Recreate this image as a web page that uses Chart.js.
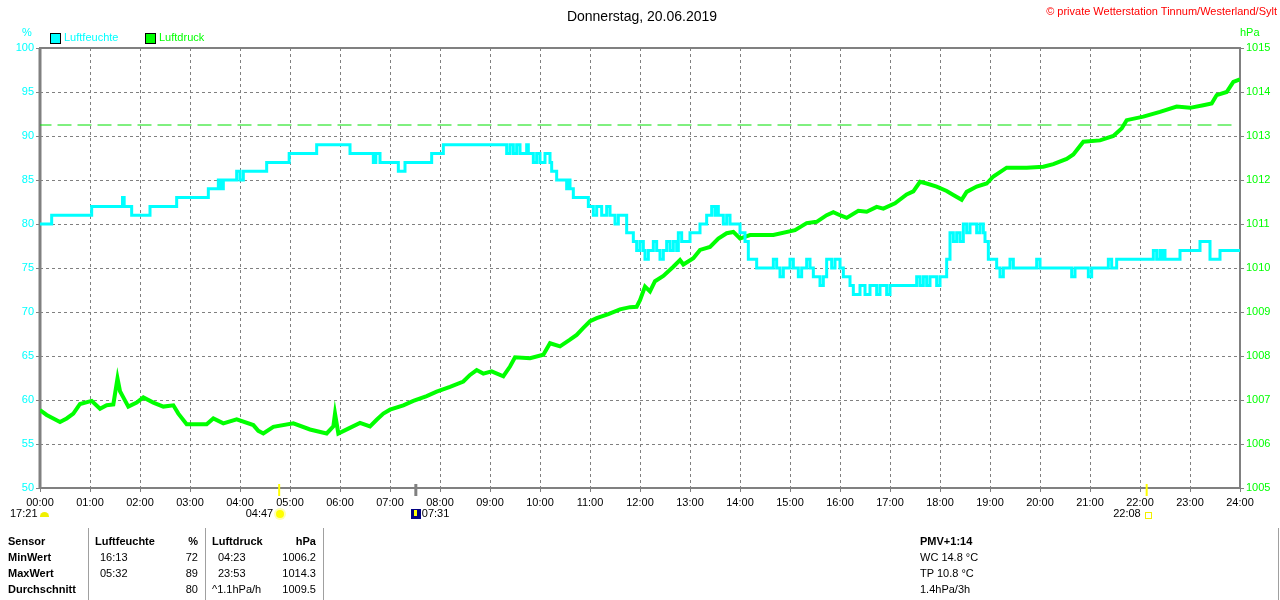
<!DOCTYPE html>
<html>
<head>
<meta charset="utf-8">
<title>Donnerstag, 20.06.2019</title>
<script src="https://cdn.jsdelivr.net/npm/chart.js@4.4.1/dist/chart.umd.min.js"></script>
<style>
body { margin: 0; background: #fff; font-family: "Liberation Sans", Arial, sans-serif; font-size: 11px; color: #000; }
#wrap { position: relative; width: 1280px; height: 600px; overflow: hidden; }
#chart { position: absolute; left: 0; top: 0; }
.t { position: absolute; white-space: nowrap; line-height: 13px; }
.b { font-weight: bold; }
.vl { position: absolute; width: 1px; background: #a0a0a0; top: 528px; height: 72px; }
.box { position: absolute; width: 9px; height: 9px; border: 1px solid #000; }
</style>
</head>
<body>
<div id="wrap">
  <canvas id="chart" width="1280" height="600"></canvas>

  <div class="t" style="left:642px; top:8px; font-size:14px; line-height:16px; transform:translateX(-50%);">Donnerstag, 20.06.2019</div>
  <div class="t" style="right:3px; top:5px; color:#ff0000;">© private Wetterstation Tinnum/Westerland/Sylt</div>

  <div class="t" style="left:22px; top:26px; color:#00ffff;">%</div>
  <div class="t" style="left:1240px; top:26px; color:#00ff00;">hPa</div>

  <div class="box" style="left:50px; top:33px; background:#00ffff;"></div>
  <div class="t" style="left:64px; top:31px; color:#00ffff;">Luftfeuchte</div>
  <div class="box" style="left:145px; top:33px; background:#00ff00;"></div>
  <div class="t" style="left:159px; top:31px; color:#00ff00;">Luftdruck</div>

  <div class="t" style="left:10px; top:507px;">17:21</div>
  <div style="position:absolute; left:40px; top:512px; width:9px; height:5px; border-radius:5px 5px 0 0; background:#f0f000;"></div>
  <div id="events"></div>

  <div class="vl" style="left:88px;"></div>
  <div class="vl" style="left:205px;"></div>
  <div class="vl" style="left:323px;"></div>
  <div class="vl" style="left:1278px;"></div>

  <div class="t b" style="left:8px; top:535px;">Sensor</div>
  <div class="t b" style="left:8px; top:551px;">MinWert</div>
  <div class="t b" style="left:8px; top:567px;">MaxWert</div>
  <div class="t b" style="left:8px; top:583px;">Durchschnitt</div>

  <div class="t b" style="left:95px; top:535px;">Luftfeuchte</div>
  <div class="t b" style="right:1082px; top:535px;">%</div>
  <div class="t" style="left:100px; top:551px;">16:13</div>
  <div class="t" style="right:1082px; top:551px;">72</div>
  <div class="t" style="left:100px; top:567px;">05:32</div>
  <div class="t" style="right:1082px; top:567px;">89</div>
  <div class="t" style="right:1082px; top:583px;">80</div>

  <div class="t b" style="left:212px; top:535px;">Luftdruck</div>
  <div class="t b" style="right:964px; top:535px;">hPa</div>
  <div class="t" style="left:218px; top:551px;">04:23</div>
  <div class="t" style="right:964px; top:551px;">1006.2</div>
  <div class="t" style="left:218px; top:567px;">23:53</div>
  <div class="t" style="right:964px; top:567px;">1014.3</div>
  <div class="t" style="left:212px; top:583px;">^1.1hPa/h</div>
  <div class="t" style="right:964px; top:583px;">1009.5</div>

  <div class="t b" style="left:920px; top:535px;">PMV+1:14</div>
  <div class="t" style="left:920px; top:551px;">WC 14.8 °C</div>
  <div class="t" style="left:920px; top:567px;">TP 10.8 °C</div>
  <div class="t" style="left:920px; top:583px;">1.4hPa/3h</div>
</div>

<script>
// Zeit in Minuten seit 00:00
let xTickLabels = ['00:00', '01:00', '02:00', '03:00', '04:00', '05:00', '06:00', '07:00', '08:00',
    '09:00', '10:00', '11:00', '12:00', '13:00', '14:00', '15:00', '16:00', '17:00', '18:00',
    '19:00', '20:00', '21:00', '22:00', '23:00', '24:00'];

// Luftfeuchte (%), Wert gilt ab dem Zeitpunkt
let humTimes = [
    0, 14, 62, 99, 101, 110, 132, 164, 202, 214,
    217, 220, 236, 240, 244, 272, 299, 332, 372, 400,
    403, 408, 430, 438, 470, 484, 560, 564, 568, 572,
    576, 584, 586, 592, 596, 600, 606, 612, 614, 620,
    632, 634, 636, 640, 658, 664, 668, 674, 680, 684,
    690, 694, 704, 712, 716, 720, 724, 726, 730, 736,
    740, 744, 748, 752, 756, 760, 764, 766, 770, 780,
    792, 800, 806, 810, 812, 814, 820, 824, 828, 840,
    846, 850, 860, 880, 884, 888, 892, 900, 904, 910,
    914, 920, 924, 928, 936, 940, 944, 950, 954, 960,
    964, 972, 976, 984, 990, 996, 1004, 1008, 1016, 1020,
    1052, 1056, 1060, 1064, 1068, 1076, 1080, 1088, 1092, 1096,
    1100, 1104, 1108, 1112, 1116, 1124, 1128, 1132, 1134, 1138,
    1148, 1152, 1156, 1164, 1168, 1196, 1200, 1238, 1242, 1258,
    1262, 1282, 1286, 1292, 1336, 1340, 1344, 1346, 1348, 1350,
    1368, 1392, 1404, 1416, 1440];
let humValues = [
    80, 81, 82, 83, 82, 81, 82, 83, 84, 85,
    84, 85, 86, 85, 86, 87, 88, 89, 88, 87,
    88, 87, 86, 87, 88, 89, 88, 89, 88, 89,
    88, 89, 88, 87, 88, 87, 88, 87, 86, 85,
    84, 85, 84, 83, 82, 81, 82, 81, 82, 81,
    80, 81, 79, 78, 77, 78, 77, 76, 77, 78,
    77, 76, 77, 78, 77, 78, 77, 79, 78, 79,
    80, 81, 82, 81, 82, 81, 80, 81, 80, 79,
    78, 76, 75, 76, 75, 74, 75, 76, 75, 74,
    75, 76, 75, 74, 73, 74, 76, 75, 76, 75,
    74, 73, 72, 73, 72, 73, 72, 73, 72, 73,
    74, 73, 74, 73, 74, 73, 74, 76, 79, 78,
    79, 78, 80, 79, 80, 79, 80, 79, 78, 76,
    75, 74, 75, 76, 75, 76, 75, 74, 75, 74,
    75, 76, 75, 76, 77, 76, 77, 76, 77, 76,
    77, 78, 76, 77, 77];

// Luftdruck (hPa)
let pressTimes = [
    0, 8, 16, 24, 32, 40, 48, 62, 72, 80,
    88, 93, 96, 100, 106, 116, 124, 136, 148, 160,
    166, 176, 200, 208, 220, 236, 256, 262, 268, 280,
    304, 324, 344, 352, 354, 358, 370, 384, 396, 404,
    412, 420, 436, 448, 464, 476, 492, 508, 516, 524,
    532, 542, 556, 564, 570, 588, 604, 612, 624, 636,
    644, 652, 660, 668, 682, 696, 708, 716, 720, 726,
    732, 738, 748, 760, 768, 772, 784, 792, 804, 814,
    824, 832, 840, 852, 880, 906, 920, 932, 944, 952,
    960, 968, 982, 992, 1004, 1012, 1026, 1040, 1048, 1056,
    1064, 1076, 1088, 1096, 1106, 1112, 1124, 1136, 1144, 1152,
    1160, 1184, 1204, 1216, 1232, 1240, 1252, 1272, 1288, 1298,
    1304, 1324, 1344, 1364, 1380, 1396, 1406, 1412, 1424, 1432,
    1440];
let pressValues = [
    1006.77, 1006.66, 1006.58, 1006.50, 1006.58, 1006.69, 1006.91, 1006.98, 1006.80, 1006.88,
    1006.90, 1007.49, 1007.20, 1007.06, 1006.85, 1006.94, 1007.06, 1006.94, 1006.85, 1006.88,
    1006.69, 1006.45, 1006.45, 1006.58, 1006.47, 1006.56, 1006.43, 1006.30, 1006.24, 1006.39,
    1006.47, 1006.33, 1006.24, 1006.40, 1006.69, 1006.24, 1006.35, 1006.48, 1006.40, 1006.55,
    1006.69, 1006.78, 1006.88, 1006.98, 1007.09, 1007.19, 1007.30, 1007.42, 1007.57, 1007.68,
    1007.60, 1007.65, 1007.54, 1007.76, 1007.97, 1007.95, 1008.03, 1008.29, 1008.22, 1008.37,
    1008.48, 1008.64, 1008.79, 1008.86, 1008.95, 1009.06, 1009.11, 1009.12, 1009.27, 1009.58,
    1009.47, 1009.70, 1009.82, 1010.03, 1010.18, 1010.08, 1010.22, 1010.41, 1010.48, 1010.67,
    1010.79, 1010.82, 1010.67, 1010.75, 1010.75, 1010.86, 1011.02, 1011.05, 1011.20, 1011.27,
    1011.20, 1011.14, 1011.30, 1011.28, 1011.39, 1011.35, 1011.47, 1011.67, 1011.74, 1011.96,
    1011.92, 1011.85, 1011.75, 1011.66, 1011.55, 1011.73, 1011.85, 1011.92, 1012.08, 1012.18,
    1012.28, 1012.28, 1012.30, 1012.36, 1012.48, 1012.58, 1012.87, 1012.90, 1013.00, 1013.17,
    1013.36, 1013.44, 1013.55, 1013.67, 1013.64, 1013.70, 1013.74, 1013.93, 1014.00, 1014.23,
    1014.29];

// Normaldruck-Linie
let normalPressure = 1013.25;

// Sonnenaufgang / Dämmerung / Sonnenuntergang
let eventTimes = [287, 451, 1328];
let eventLabels = ['04:47', '07:31', '22:08'];
let eventColors = ['#ffff00', '#808080', '#ffff00'];

function toPoints(xs, ys) {
    let pts = [];
    for (let i = 0; i < xs.length; i++) {
        pts.push({ x: xs[i], y: ys[i] });
    }
    return pts;
}

var framePlugin = {
    id: 'frame',
    beforeDatasetsDraw: function(chart) {
        let a = chart.chartArea;
        let ctx = chart.ctx;
        ctx.save();
        ctx.strokeStyle = '#808080';
        ctx.lineWidth = 2;
        ctx.strokeRect(a.left, a.top, a.right - a.left, a.bottom - a.top);
        ctx.lineWidth = 3;
        ctx.beginPath();
        ctx.moveTo(a.left, a.top);
        ctx.lineTo(a.left, a.bottom);
        ctx.stroke();
        ctx.restore();
    },
    afterDraw: function(chart) {
        let ctx = chart.ctx;
        let a = chart.chartArea;
        ctx.save();
        for (let i = 0; i < eventTimes.length; i++) {
            let px = chart.scales.x.getPixelForValue(eventTimes[i]);
            ctx.strokeStyle = eventColors[i];
            ctx.lineWidth = i == 1 ? 3 : 2;
            ctx.beginPath();
            ctx.moveTo(px, a.bottom - 4);
            ctx.lineTo(px, a.bottom + 8);
            ctx.stroke();
        }
        ctx.restore();
    }
};

var ctx = document.getElementById('chart').getContext('2d');
var data = {
    datasets: [{
        label: 'Luftfeuchte',
        data: toPoints(humTimes, humValues),
        yAxisID: 'y',
        borderColor: '#00ffff',
        borderWidth: 3,
        pointRadius: 0,
        stepped: 'before',
        order: 0
    }, {
        label: 'Luftdruck',
        data: toPoints(pressTimes, pressValues),
        yAxisID: 'y1',
        borderColor: '#00ff00',
        borderWidth: 4,
        pointRadius: 0,
        order: 1
    }, {
        label: 'Normaldruck',
        data: [{ x: -3, y: normalPressure }, { x: 1435, y: normalPressure }],
        yAxisID: 'y1',
        borderColor: '#00e000',
        borderWidth: 1,
        borderDash: [14, 6],
        pointRadius: 0,
        order: 2
    }]
};

var options = {
    responsive: false,
    animation: false,
    layout: { padding: { top: 48, left: 0, right: 0, bottom: 0 } },
    plugins: { legend: { display: false }, tooltip: { enabled: false } },
    scales: {
        x: {
            type: 'linear',
            min: 0,
            max: 1440,
            afterFit: function(s) { s.height = 112; },
            afterBuildTicks: function(s) {
                s.ticks = xTickLabels.map(function(l, i) { return { value: i * 60 }; });
            },
            ticks: {
                autoSkip: false,
                maxRotation: 0,
                padding: 4,
                color: '#000',
                font: { family: 'Liberation Sans', size: 11 },
                callback: function(v, i) { return xTickLabels[i]; }
            },
            grid: { color: '#808080', lineWidth: 1, tickLength: 4, tickColor: '#808080' },
            border: { display: false, dash: [3, 3] }
        },
        y: {
            position: 'left',
            min: 50,
            max: 100,
            afterFit: function(s) { s.width = 40; },
            ticks: {
                stepSize: 5,
                padding: 2,
                color: '#00ffff',
                font: { family: 'Liberation Sans', size: 11 },
                callback: function(v) { return String(v); }
            },
            grid: { color: '#808080', lineWidth: 1, tickLength: 4, tickColor: '#808080' },
            border: { display: false, dash: [3, 3] }
        },
        y1: {
            position: 'right',
            min: 1005,
            max: 1015,
            afterFit: function(s) { s.width = 40; },
            ticks: {
                stepSize: 1,
                padding: 2,
                color: '#00ff00',
                font: { family: 'Liberation Sans', size: 11 },
                callback: function(v) { return String(v); }
            },
            grid: { drawOnChartArea: false, color: '#808080', tickLength: 4, tickColor: '#808080' },
            border: { display: false }
        }
    }
};

var chart = new Chart(ctx, {
    type: 'line',
    data: data,
    options: options,
    plugins: [framePlugin]
});

// Texte und Symbole der Sonnenzeiten unter der Zeitachse
function addEvents() {
    let box = document.getElementById('events');
    let xs = eventTimes.map(function(t) { return chart.scales.x.getPixelForValue(t); });
    let html = '';
    html += '<div class="t" style="right:' + (1280 - xs[0] + 6) + 'px; top:507px;">' + eventLabels[0] + '</div>';
    html += '<div style="position:absolute; left:' + (xs[0] - 3) + 'px; top:510px; width:8px; height:8px; border-radius:50%; background:#ffff00; box-shadow:0 0 0 2px #ffffb0;"></div>';
    html += '<div style="position:absolute; left:' + (xs[1] - 5) + 'px; top:509px; width:10px; height:10px; background:#000080;">' +
        '<div style="position:absolute; left:3px; top:1px; width:3px; height:6px; background:#ffff00;"></div></div>';
    html += '<div class="t" style="left:' + (xs[1] + 6) + 'px; top:507px;">' + eventLabels[1] + '</div>';
    html += '<div class="t" style="right:' + (1280 - xs[2] + 6) + 'px; top:507px;">' + eventLabels[2] + '</div>';
    html += '<div style="position:absolute; left:' + (xs[2] - 2) + 'px; top:512px; width:5px; height:5px; border:1px solid #f0f000;"></div>';
    box.innerHTML = html;
}
addEvents();
</script>
</body>
</html>
